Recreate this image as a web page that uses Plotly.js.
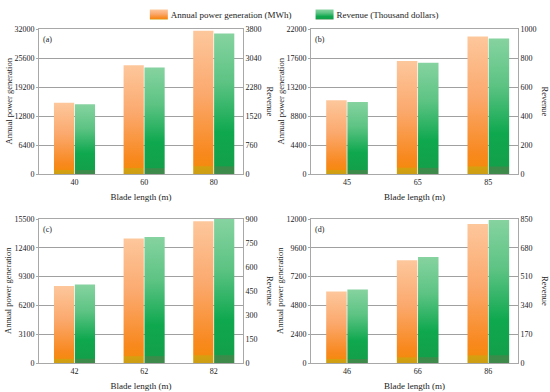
<!DOCTYPE html>
<html>
<head>
<meta charset="utf-8">
<script src="https://cdn.plot.ly/plotly-3.0.1.min.js"></script>
<style>html,body{margin:0;padding:0;background:#fff;}#chart{width:550px;height:392px;}</style>
</head>
<body>
<div id="chart"></div>
<script>
// ---- data ----
const bladeA = ['40', '60', '80'];
const powerA = [15700, 24000, 31600];
const revenueA = [1825, 2790, 3680];

const bladeB = ['45', '65', '85'];
const powerB = [11180, 17150, 20880];
const revenueB = [497, 768, 935];

const bladeC = ['42', '62', '82'];
const powerC = [8300, 13400, 15250];
const revenueC = [491, 788, 900];

const bladeD = ['46', '66', '86'];
const powerD = [5960, 8570, 11580];
const revenueD = [434, 625, 844];

const panelLabels = ['(a)', '(b)', '(c)', '(d)'];
const leftTicks = [[0, 32000, 6400], [0, 22000, 4400], [0, 15500, 3100], [0, 12000, 2400]];
const rightTicks = [[0, 3800, 760], [0, 1000, 200], [0, 900, 150], [0, 850, 170]];

const ORANGE = 'rgb(250, 160, 90)';
const GREEN = 'rgb(60, 185, 110)';
const FONT = 'Liberation Serif, Times New Roman, serif';

const panels = [
  {x: bladeA, p: powerA, r: revenueA},
  {x: bladeB, p: powerB, r: revenueB},
  {x: bladeC, p: powerC, r: revenueC},
  {x: bladeD, p: powerD, r: revenueD}
];

const W = 550, H = 392;
const xDom = [[39 / W, 243 / W], [311 / W, 518 / W]];
const yDom = [[1 - 174 / H, 1 - 29 / H], [1 - 363 / H, 1 - 219 / H]];

const data = [];
const layout = {
  width: W, height: H,
  margin: {l: 0, r: 0, t: 0, b: 0},
  paper_bgcolor: '#fff', plot_bgcolor: '#fff',
  font: {family: FONT, size: 8, color: '#222'},
  barmode: 'group',
  showlegend: true,
  legend: {
    orientation: 'h', x: 0.537, xanchor: 'center', y: 1.0, yanchor: 'top',
    font: {family: FONT, size: 9, color: '#222'},
    bgcolor: 'rgba(0,0,0,0)', traceorder: 'normal', itemclick: false
  },
  annotations: []
};

panels.forEach((pn, i) => {
  const xn = i + 1;
  const yl = 2 * i + 1, yr = 2 * i + 2;
  const xs = xn === 1 ? 'x' : 'x' + xn;
  const yls = yl === 1 ? 'y' : 'y' + yl;
  const yrs = 'y' + yr;
  data.push({
    type: 'bar', x: pn.x, y: pn.p, xaxis: xs, yaxis: yls,
    name: 'Annual power generation (MWh)', legendgroup: 'p', showlegend: i === 0,
    marker: {color: ORANGE, line: {width: 0}}, width: 0.29, offset: -0.295
  });
  data.push({
    type: 'bar', x: pn.x, y: pn.r, xaxis: xs, yaxis: yrs,
    name: 'Revenue (Thousand dollars)', legendgroup: 'r', showlegend: i === 0,
    marker: {color: GREEN, line: {width: 0}}, width: 0.29, offset: 0.005
  });
  const col = i % 2, row = Math.floor(i / 2);
  const xk = xn === 1 ? 'xaxis' : 'xaxis' + xn;
  const ylk = yl === 1 ? 'yaxis' : 'yaxis' + yl;
  const yrk = 'yaxis' + yr;
  layout[xk] = {
    domain: xDom[col], anchor: yls, type: 'category', range: [-0.51, 2.42],
    showline: true, linecolor: '#a8a8a8', linewidth: 1, mirror: true,
    ticks: '', showgrid: false, zeroline: false,
    tickfont: {family: FONT, size: 8, color: '#222'},
    title: {text: 'Blade length (m)', font: {family: FONT, size: 9, color: '#222'}, standoff: 8}
  };
  const lt = leftTicks[i], rt = rightTicks[i];
  layout[ylk] = {
    domain: yDom[row], anchor: xs, range: [lt[0], lt[1]], dtick: lt[2], tick0: 0,
    tickformat: 'd',
    showline: true, linecolor: '#a8a8a8', linewidth: 1,
    ticks: 'outside', ticklen: 2, tickcolor: '#a8a8a8',
    showgrid: true, gridcolor: '#a0a0a0', gridwidth: 1, zeroline: false,
    tickfont: {family: FONT, size: 8, color: '#222'}
  };
  layout[yrk] = {
    overlaying: yls, side: 'right', anchor: xs, range: [rt[0], rt[1]], dtick: rt[2], tick0: 0,
    tickformat: 'd',
    showline: true, linecolor: '#a8a8a8', linewidth: 1,
    ticks: '', showgrid: false, zeroline: false,
    tickfont: {family: FONT, size: 8, color: '#222'}
  };
  layout.annotations.push({
    text: 'Annual power generation', textangle: -90, xref: xs + ' domain', yref: yls + ' domain',
    x: 0, y: 0.5, xanchor: 'center', yanchor: 'middle', xshift: -31, showarrow: false,
    font: {family: FONT, size: 8.5, color: '#222'}
  });
  layout.annotations.push({
    text: 'Revenue', textangle: 90, xref: xs + ' domain', yref: yls + ' domain',
    x: 1, y: 0.5, xanchor: 'center', yanchor: 'middle', xshift: 27, showarrow: false,
    font: {family: FONT, size: 8.5, color: '#222'}
  });
  layout.annotations.push({
    text: panelLabels[i], xref: xs + ' domain', yref: yls + ' domain',
    x: 0, y: 1, xanchor: 'left', yanchor: 'top', xshift: 2, yshift: -4, showarrow: false,
    font: {family: FONT, size: 8, color: '#222'}
  });
});

const gd = document.getElementById('chart');
Plotly.newPlot(gd, data, layout, {displayModeBar: false, staticPlot: true}).then(() => {
  const svg = gd.querySelector('svg.main-svg');
  const ns = 'http://www.w3.org/2000/svg';
  let defs = svg.querySelector('defs');
  if (!defs) { defs = document.createElementNS(ns, 'defs'); svg.insertBefore(defs, svg.firstChild); }
  function grad(id, stops) {
    const g = document.createElementNS(ns, 'linearGradient');
    g.setAttribute('id', id);
    g.setAttribute('x1', '0'); g.setAttribute('y1', '0');
    g.setAttribute('x2', '0'); g.setAttribute('y2', '1');
    stops.forEach(s => {
      const st = document.createElementNS(ns, 'stop');
      st.setAttribute('offset', s[0]);
      st.setAttribute('stop-color', s[1]);
      g.appendChild(st);
    });
    defs.appendChild(g);
  }
  grad('gradOrange', [['0%', '#fdc79c'], ['45%', '#fba86c'], ['85%', '#f8891f'], ['94%', '#f58a10'], ['95%', '#d6a010'], ['100%', '#cc9e14']]);
  grad('gradGreen', [['0%', '#86d3a0'], ['35%', '#5cc383'], ['70%', '#0fa84f'], ['94%', '#13a04a'], ['95%', '#3a8c4a'], ['100%', '#3f8a4c']]);
  gd.querySelectorAll('path').forEach(p => {
    const f = p.style.fill || '';
    if (f.indexOf('250, 160, 90') >= 0) p.style.fill = 'url(#gradOrange)';
    else if (f.indexOf('60, 185, 110') >= 0) p.style.fill = 'url(#gradGreen)';
  });
  gd.querySelectorAll('.legend .traces').forEach(t => {
    const sym = t.querySelector('.legendpoints path');
    if (sym) sym.setAttribute('d', 'M9,5H-9V-5H9Z');
    const txt = t.querySelector('text.legendtext');
    if (txt) txt.setAttribute('x', '32');
  });
});
</script>
</body>
</html>
